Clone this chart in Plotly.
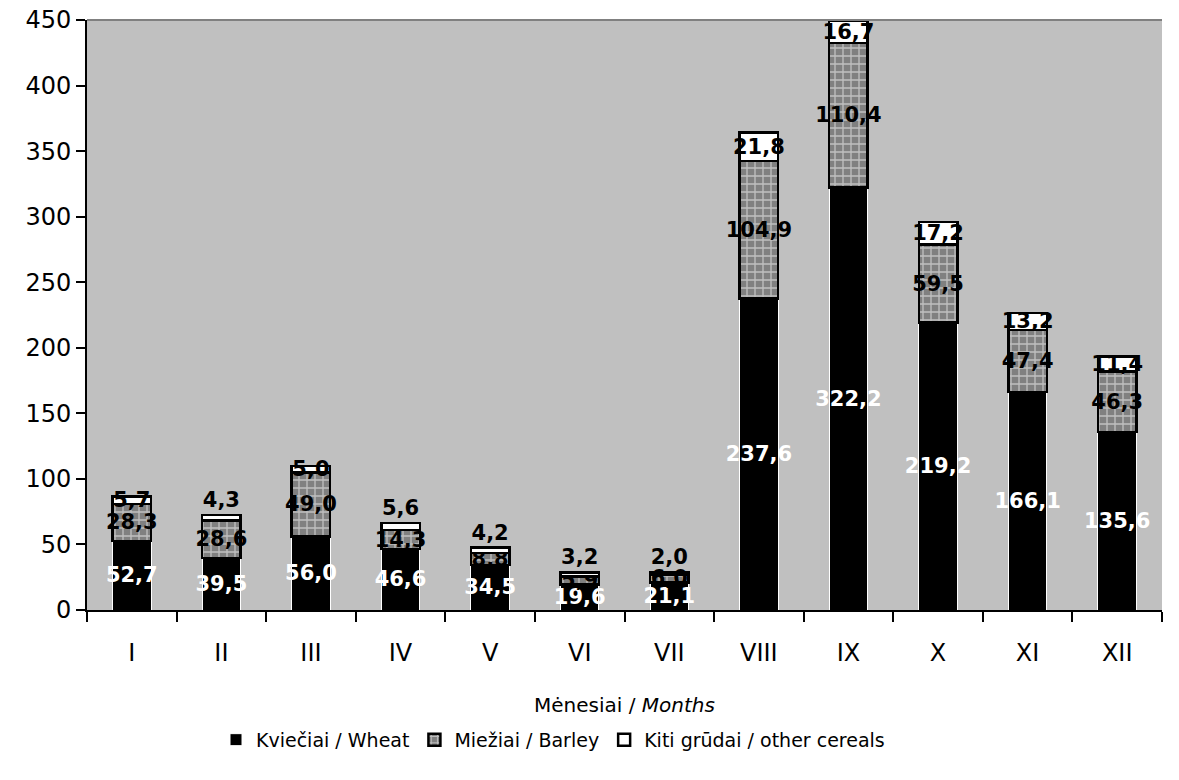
import plotly.graph_objects as go

months = ["I", "II", "III", "IV", "V", "VI", "VII", "VIII", "IX", "X", "XI", "XII"]
wheat = [52.7, 39.5, 56.0, 46.6, 34.5, 19.6, 21.1, 237.6, 322.2, 219.2, 166.1, 135.6]
barley = [28.3, 28.6, 49.0, 14.3, 8.8, 5.9, 6.0, 104.9, 110.4, 59.5, 47.4, 46.3]
other = [5.7, 4.3, 5.0, 5.6, 4.2, 3.2, 2.0, 21.8, 16.7, 17.2, 13.2, 11.4]
other_pos = ["inside", "outside", "inside", "outside", "outside", "outside", "outside",
             "inside", "inside", "inside", "inside", "inside"]

def fmt(v):
    return f"{v:.1f}".replace(".", ",")

FONT = "DejaVu Sans"

fig = go.Figure()
fig.add_trace(go.Bar(
    x=months, y=wheat, name="Kviečiai / Wheat",
    marker=dict(color="black", line=dict(color="white", width=1)),
    text=[fmt(v) for v in wheat], textposition="inside", insidetextanchor="middle",
    textangle=0,
    textfont=dict(family=FONT, size=21, color="white", weight="bold"),
))
fig.add_trace(go.Bar(
    x=months, y=barley, name="Miežiai / Barley",
    marker=dict(color="#808080", line=dict(color="black", width=2.5),
                pattern=dict(shape="+", bgcolor="#808080", fgcolor="white", size=8, solidity=0.3,
                             fillmode="overlay")),
    text=[fmt(v) for v in barley], textposition="inside", insidetextanchor="middle",
    textangle=0,
    textfont=dict(family=FONT, size=21, color="black", weight="bold"),
))
fig.add_trace(go.Bar(
    x=months, y=other, name="Kiti grūdai / other cereals",
    marker=dict(color="white", line=dict(color="black", width=2.5)),
    text=[fmt(v) for v in other], textposition=other_pos, insidetextanchor="middle",
    textangle=0,
    textfont=dict(family=FONT, size=21, color="black", weight="bold"),
    cliponaxis=False,
))

fig.update_layout(
    width=1179, height=780,
    barmode="stack", bargap=0.57,
    paper_bgcolor="white", plot_bgcolor="#C0C0C0",
    margin=dict(l=87, r=17, t=20, b=170, autoexpand=False),
    font=dict(family=FONT, size=22, color="black"),
    uniformtext=dict(minsize=21, mode="show"),
    showlegend=True,
    legend=dict(orientation="h", x=0.12, xanchor="left", y=-0.22, yanchor="middle",
                font=dict(family=FONT, size=19), traceorder="normal",
                itemwidth=30, tracegroupgap=0),
    xaxis=dict(
        title=dict(text="Mėnesiai / <i>Months</i>", font=dict(family=FONT, size=20), standoff=32),
        showline=True, linecolor="black", linewidth=2,
        ticks="outside", tickson="boundaries", ticklen=10, tickwidth=2, tickcolor="black",
        tickfont=dict(family=FONT, size=24), ticklabelstandoff=20,
        showgrid=False,
    ),
    yaxis=dict(
        range=[0, 450], dtick=50, showline=True, linecolor="black", linewidth=2,
        ticks="outside", ticklen=9, tickwidth=2, tickcolor="black",
        tickfont=dict(family=FONT, size=24), showgrid=False, zeroline=False,
        ticklabeloverflow="allow",
    ),
    shapes=[dict(type="line", xref="paper", yref="paper", x0=0, x1=1, y0=1, y1=1,
                 line=dict(color="#808080", width=2))],
)

fig.write_html("out.html", config={"displayModeBar": False},
               post_script="document.body.style.margin='0';document.body.style.overflow='hidden';")
